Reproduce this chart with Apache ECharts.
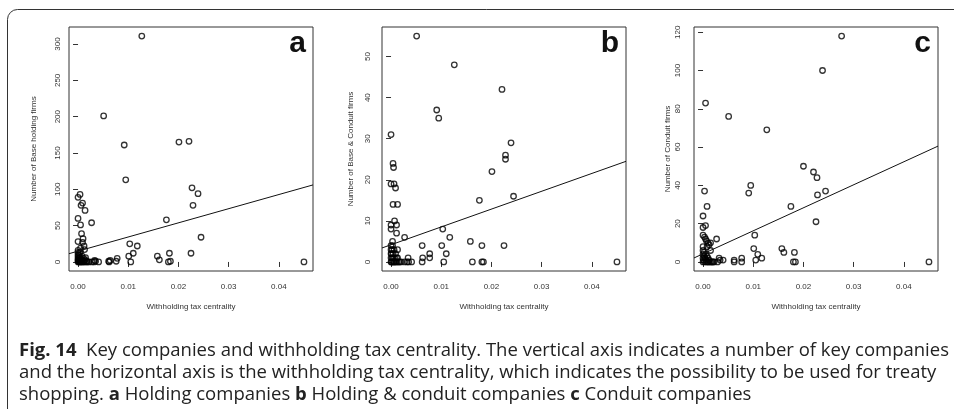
<!DOCTYPE html>
<html><head><meta charset="utf-8">
<script src="https://cdn.jsdelivr.net/npm/echarts@6/dist/echarts.min.js"></script>
<style>html,body{margin:0;padding:0;background:#fff}#c{width:954px;height:409px}</style>
</head><body><div id="c"></div>
<script>
// ---------- DATA ----------
const xTickValues = [0, 0.01, 0.02, 0.03, 0.04];
const yTickValuesA = [0, 50, 100, 150, 200, 250, 300];
const yTickValuesB = [0, 10, 20, 30, 40, 50];
const yTickValuesC = [0, 20, 40, 60, 80, 100, 120];
const xAxisTitle = 'Withholding tax centrality';
const yAxisTitles = ['Number of Base holding firms', 'Number of Base & Conduit firms', 'Number of Conduit firms'];
const panelLetters = ['a', 'b', 'c'];

// Panel a: holding companies
const holdingX = [0.0127,0.0051,0.0092,0.0201,0.0221,0.0095,0.0227,0.0239,0.0004,0.0000,0.0006,0.0009,0.0014,0.0000,0.0005,0.0027,0.0007,0.0010,0.0000,0.0009,0.0012,0.0013,0.0005,0.0015,0.0101,0.0103,0.0105,0.0110,0.0118,0.0158,0.0162,0.0176,0.0182,0.0180,0.0184,0.0225,0.0229,0.0245,0.0450,0.0061,0.0064,0.0076,0.0078,0.0062,0.0019,0.0028,0.0032,0.0033,0.0035,0.0041,0.0022,
  0.0000,0.0000,0.0000,0.0000,0.0000,0.0000,0.0000,0.0001,0.0001,0.0002,0.0002,0.0002,0.0003,0.0003,0.0004,0.0004,0.0005,0.0005,0.0006,0.0006,0.0007,0.0008,0.0008,0.0009,0.0010,0.0011,0.0012,0.0013,0.0014,0.0016,0.0017];
const holdingY = [311,201,161,165,166,113,102,94,93,89,78,81,71,60,51,54,39,32,28,27,22,17,19,6,8,25,0,12,22,8,3,58,12,0,1,12,78,34,0,1,2,1,5,0,0,0,0,2,1,0,0,
  0,2,4,7,10,13,16,1,5,0,3,9,1,12,0,6,2,14,0,4,1,0,8,2,0,5,1,0,3,0,1];

// Panel b: holding & conduit companies
const bothX = [0.0051,0.0126,0.0221,0.0091,0.0095,0.0000,0.0239,0.0228,0.0228,0.0201,0.0004,0.0005,0.0000,0.0006,0.0009,0.0244,0.0176,0.0004,0.0013,0.0007,0.0000,0.0011,0.0000,0.0011,0.0027,0.0103,0.0117,0.0003,0.0062,0.0101,0.0158,0.0181,0.0225,0.0077,0.0077,0.0110,0.0063,0.0034,0.0013,0.0062,0.0105,0.0162,0.0181,0.0184,0.0450,0.0041,0.0032,0.0035,0.0020,0.0027,
  0.0000,0.0000,0.0000,0.0000,0.0000,0.0001,0.0001,0.0002,0.0002,0.0003,0.0003,0.0004,0.0004,0.0005,0.0006,0.0006,0.0007,0.0008,0.0009,0.0010,0.0011,0.0012,0.0013,0.0015,0.0017];
const bothY = [55,48,42,37,35,31,29,26,25,22,24,23,19,19,18,16,15,14,14,10,9,9,8,7,6,8,6,5,4,4,5,4,4,2,1,2,1,1,1,0,0,0,0,0,0,0,0,0,0,0,
  0,1,2,3,4,0,2,1,3,0,4,1,2,0,0,3,1,0,2,0,1,0,3,0,0];

// Panel c: conduit companies
const conduitX = [0.0276,0.0238,0.0005,0.0051,0.0127,0.0200,0.0220,0.0227,0.0095,0.0091,0.0003,0.0228,0.0244,0.0008,0.0175,0.0000,0.0005,0.0000,0.0225,0.0103,0.0027,0.0157,0.0161,0.0101,0.0109,0.0117,0.0105,0.0182,0.0180,0.0184,0.0077,0.0077,0.0062,0.0062,0.0032,0.0034,0.0040,0.0450,0.0022,0.0029,0.0016,
  0.0000,0.0003,0.0005,0.0007,0.0010,0.0012,0.0015,0.0008,0.0015,0.0000,0.0000,0.0000,0.0000,0.0000,0.0001,0.0002,0.0002,0.0003,0.0004,0.0005,0.0006,0.0007,0.0008,0.0009,0.0010,0.0011,0.0012,0.0014,0.0018,0.0020];
const conduitY = [118,100,83,76,69,50,47,44,40,36,37,35,37,29,29,24,19,18,21,14,12,7,5,7,4,2,1,5,0,0,2,0,1,0,2,1,1,0,0,0,0,
  14,13,12,11,10,9,10,8,6,8,6,4,2,0,1,3,5,0,2,4,1,0,3,0,2,0,1,0,0,0];

// Fitted regression lines (intercept, slope) per panel
const fitIntercepts = [14.9, 4.19, 4.25];
const fitSlopes = [1948, 434, 1202];

// ---------- LAYOUT / STYLE ----------
const FONT = '"Liberation Sans", Arial, Helvetica, sans-serif';
const panels = [
  {x: holdingX, y: holdingY, yTicks: yTickValuesA, left: 69, labelMargin: 7, nameGap: 31},
  {x: bothX, y: bothY, yTicks: yTickValuesB, left: 382, labelMargin: 10, nameGap: 27},
  {x: conduitX, y: conduitY, yTicks: yTickValuesC, left: 694, labelMargin: 12, nameGap: 22}
];
const gridTop = 27, gridW = 244, gridH = 244;

function rRange(arr) {
  const mn = Math.min(...arr), mx = Math.max(...arr), d = (mx - mn) * 0.04;
  return [mn - d, mx + d];
}

const grids = [], xAxes = [], yAxes = [], series = [], graphics = [];
const tickColor = '#333';
panels.forEach((p, i) => {
  grids.push({left: p.left, top: gridTop, width: gridW, height: gridH, show: true,
    borderColor: '#333', borderWidth: 1, backgroundColor: 'transparent'});
  const xr = rRange(p.x), yr = rRange(p.y);
  xAxes.push({type: 'value', gridIndex: i, min: xr[0], max: xr[1],
    axisLine: {show: false}, splitLine: {show: false},
    axisTick: {show: true, inside: false, length: 5, customValues: xTickValues, lineStyle: {color: tickColor}},
    axisLabel: {customValues: xTickValues, formatter: v => v.toFixed(2), fontSize: 8, fontFamily: FONT, color: '#333', margin: 12},
    name: xAxisTitle, nameLocation: 'middle', nameGap: 32,
    nameTextStyle: {fontSize: 8, fontFamily: FONT, color: '#333'}});
  yAxes.push({type: 'value', gridIndex: i, min: yr[0], max: yr[1],
    axisLine: {show: false}, splitLine: {show: false},
    axisTick: {show: true, inside: false, length: 5, customValues: p.yTicks, lineStyle: {color: tickColor}},
    axisLabel: {customValues: p.yTicks, rotate: 90, fontSize: 8, fontFamily: FONT, color: '#333', margin: p.labelMargin},
    name: yAxisTitles[i], nameLocation: 'middle', nameGap: p.nameGap,
    nameTextStyle: {fontSize: 8, fontFamily: FONT, color: '#333'}});
  series.push({type: 'scatter', xAxisIndex: i, yAxisIndex: i,
    data: p.x.map((v, k) => [v, p.y[k]]),
    symbol: 'circle', symbolSize: 5.5,
    itemStyle: {color: 'rgba(0,0,0,0)', borderColor: '#000', borderWidth: 1.3},
    emphasis: {disabled: true}, silent: true});
  series.push({type: 'line', xAxisIndex: i, yAxisIndex: i,
    data: [[xr[0], fitIntercepts[i] + fitSlopes[i] * xr[0]], [xr[1], fitIntercepts[i] + fitSlopes[i] * xr[1]]],
    symbol: 'none', lineStyle: {color: '#111', width: 1}, silent: true});
  graphics.push({type: 'text', x: p.left + gridW - 7, y: 44,
    style: {text: panelLetters[i], font: 'bold 30px ' + FONT, fill: '#111', align: 'right', verticalAlign: 'middle'}});
});

// outer frame
graphics.push({type: 'rect', shape: {x: 7.5, y: 9.5, width: 1000, height: 500, r: [10, 0, 0, 0]},
  style: {fill: 'none', stroke: '#333', lineWidth: 1}, silent: true});

const captionLines = [
  '{b|Fig. 14}  Key companies and withholding tax centrality. The vertical axis indicates a number of key companies',
  'and the horizontal axis is the withholding tax centrality, which indicates the possibility to be used for treaty',
  'shopping. {b|a} Holding companies {b|b} Holding & conduit companies {b|c} Conduit companies'
];
const CAPFONT = '"Open Sans", "Noto Sans", sans-serif';
const CAPSIZE = 18.5;
captionLines.forEach((t, k) => {
  graphics.push({type: 'text', x: 19, y: 351 + k * 22,
    style: {text: t, fontSize: CAPSIZE, fontFamily: CAPFONT, fill: '#222', align: 'left', verticalAlign: 'middle',
      rich: {b: {fontWeight: 'bold', fontSize: CAPSIZE, fontFamily: CAPFONT, fill: '#222'}}}});
});

const chart = echarts.init(document.getElementById('c'), null, {renderer: 'canvas'});
chart.setOption({animation: false, grid: grids, xAxis: xAxes, yAxis: yAxes, series: series, graphic: graphics});
</script>
</body></html>
